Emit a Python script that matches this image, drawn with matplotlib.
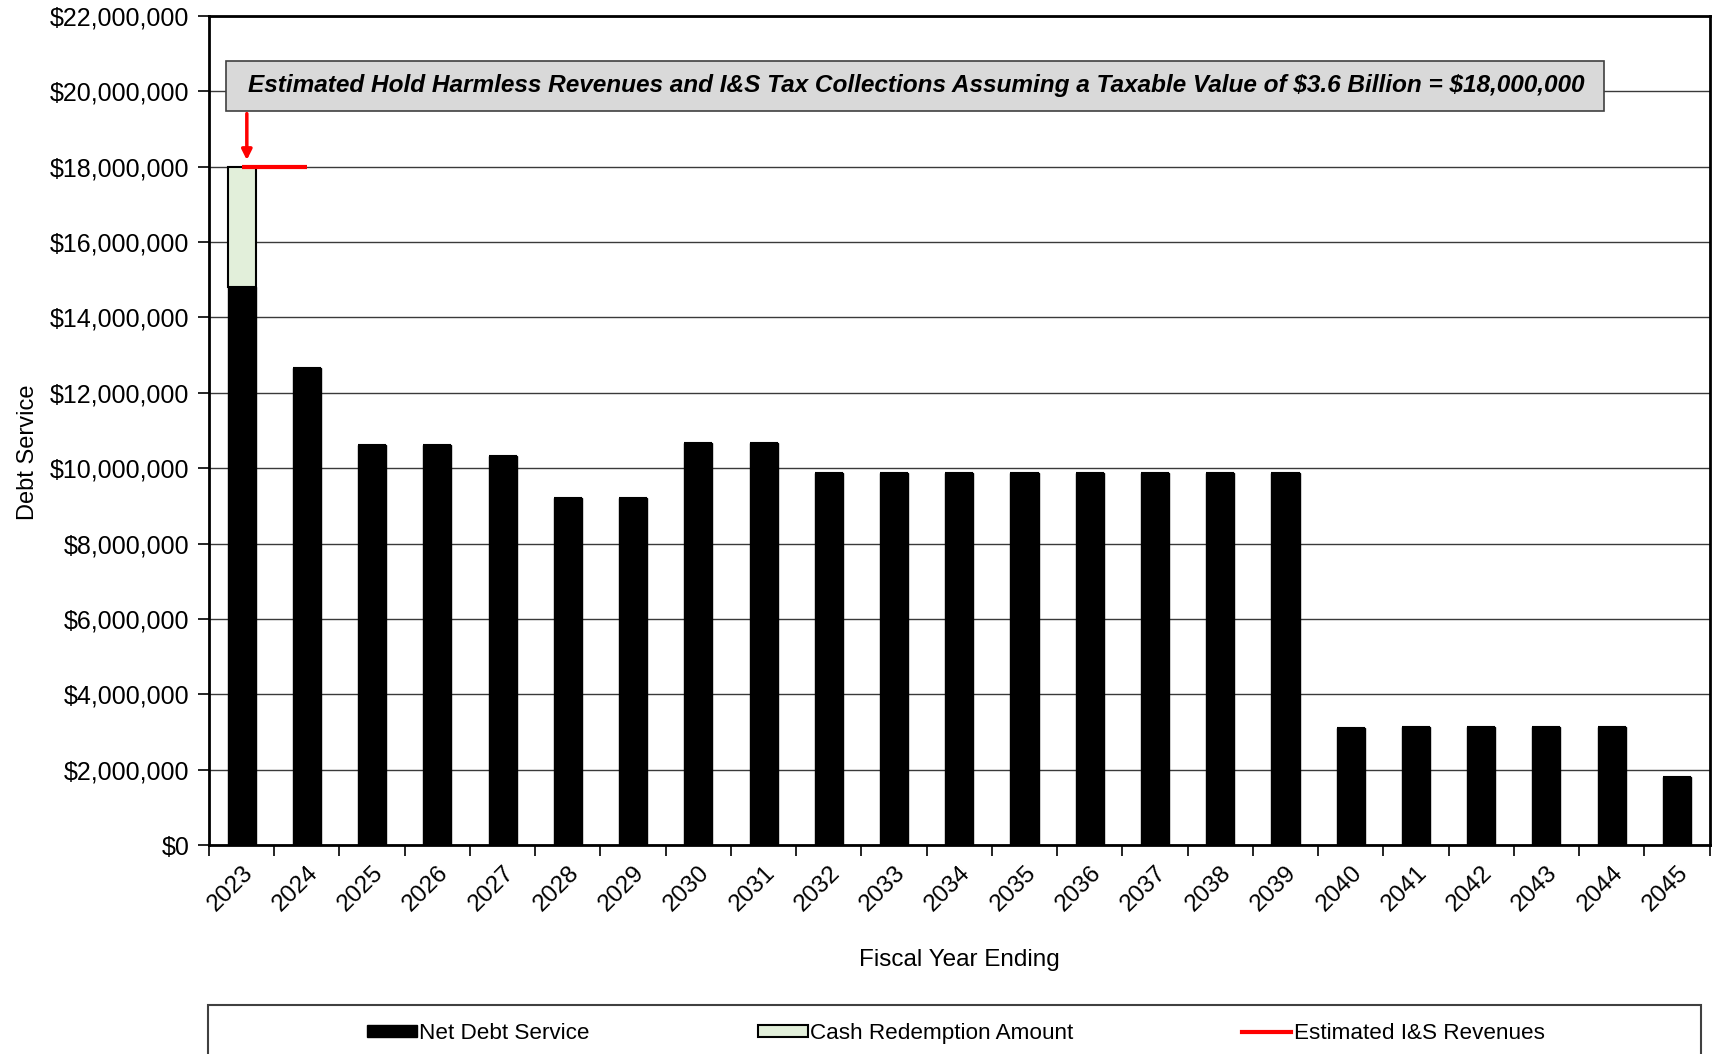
import matplotlib
matplotlib.use("Agg")
import matplotlib.pyplot as plt
from matplotlib.patches import Patch, Rectangle
from matplotlib.lines import Line2D
from matplotlib.ticker import FuncFormatter, MultipleLocator
import numpy as np

plt.rcParams["font.family"] = ["Liberation Sans", "DejaVu Sans"]

# data
years = [str(y) for y in range(2023, 2046)]
net_debt_service = [
    14.80e6, 12.67e6, 10.62e6, 10.62e6, 10.33e6, 9.20e6, 9.20e6, 10.68e6,
    10.68e6, 9.87e6, 9.87e6, 9.87e6, 9.87e6, 9.87e6, 9.87e6, 9.87e6,
    9.87e6, 3.10e6, 3.14e6, 3.13e6, 3.14e6, 3.14e6, 1.82e6,
]
cash_redemption = [3.20e6] + [0.0] * 22
revenue_x = [0, 1]
revenue_y = [18.0e6, 18.0e6]
note = (r"Estimated Hold Harmless Revenues and I&S Tax Collections "
        r"Assuming a Taxable Value of \$3.6 Billion = \$18,000,000")

fig = plt.figure(figsize=(17.13, 10.54), dpi=100)
ax = fig.add_axes([0.122, 0.198, 0.876, 0.787])

x = np.arange(len(years))
ax.bar(x, net_debt_service, width=0.43, color="black", edgecolor="black",
       linewidth=1, zorder=3)
ax.bar(x, cash_redemption, width=0.43, bottom=net_debt_service,
       color="#e2efda", edgecolor="black", linewidth=1.5, zorder=3)
ax.plot(revenue_x, revenue_y, color="#ff0000", linewidth=3,
        solid_capstyle="butt", zorder=4)

ax.set_xlim(-0.5, len(years) - 0.5)
ax.set_ylim(0, 22e6)
ax.yaxis.set_major_locator(MultipleLocator(2e6))
ax.yaxis.set_major_formatter(FuncFormatter(lambda v, p: f"${v:,.0f}"))
ax.grid(axis="y", color="#3a3a3a", linewidth=1, zorder=0)
ax.set_axisbelow(True)

ax.set_xticks(x)
ax.set_xticklabels(years, rotation=45, ha="right", rotation_mode="anchor")
ax.set_xticks(np.arange(-0.5, len(years)), minor=True)
ax.tick_params(axis="x", which="major", length=0, labelsize=17.5, pad=12)
ax.tick_params(axis="x", which="minor", length=8, width=1.2)
ax.tick_params(axis="y", length=8, width=1.2, labelsize=18, pad=6)

for s in ax.spines.values():
    s.set_linewidth(2)

ax.set_xlabel("Fiscal Year Ending", fontsize=17.5, labelpad=24)
ax.set_ylabel("Debt Service", fontsize=17, labelpad=14)
ax.yaxis.set_label_coords(-0.113, 0.474)

# note box with arrow
ax.add_patch(Rectangle((-0.24, 19.48e6), 21.12, 1.33e6, facecolor="#d9d9d9",
                       edgecolor="#404040", linewidth=1.2, zorder=5))
ax.text(10.34, 20.15e6, note, ha="center", va="center", fontsize=17.6,
        fontweight="bold", fontstyle="italic", zorder=6)
ax.annotate("", xy=(0.08, 18.1e6), xytext=(0.08, 19.48e6),
            arrowprops=dict(arrowstyle="-|>,head_length=0.6,head_width=0.3",
                            color="#ff0000", lw=2.5), zorder=6)

# legend in a framed strip below the chart
fig.patches.append(Rectangle((0.1212, -0.05), 0.872, 0.0965,
                             transform=fig.transFigure, facecolor="white",
                             edgecolor="#404040", linewidth=1.5))
handles = [
    Patch(facecolor="black", edgecolor="black", label="Net Debt Service"),
    Patch(facecolor="#e2efda", edgecolor="black", linewidth=1.5,
          label="Cash Redemption Amount"),
    Line2D([], [], color="#ff0000", linewidth=3, label="Estimated I&S Revenues"),
]
fig.legend(handles=handles, loc="center", bbox_to_anchor=(0.558, 0.0195),
           ncol=3, frameon=False, fontsize=16.2, handlelength=2.2,
           handleheight=0.5, handletextpad=0.1, columnspacing=7.5)

fig.savefig("out.png", dpi=100)
